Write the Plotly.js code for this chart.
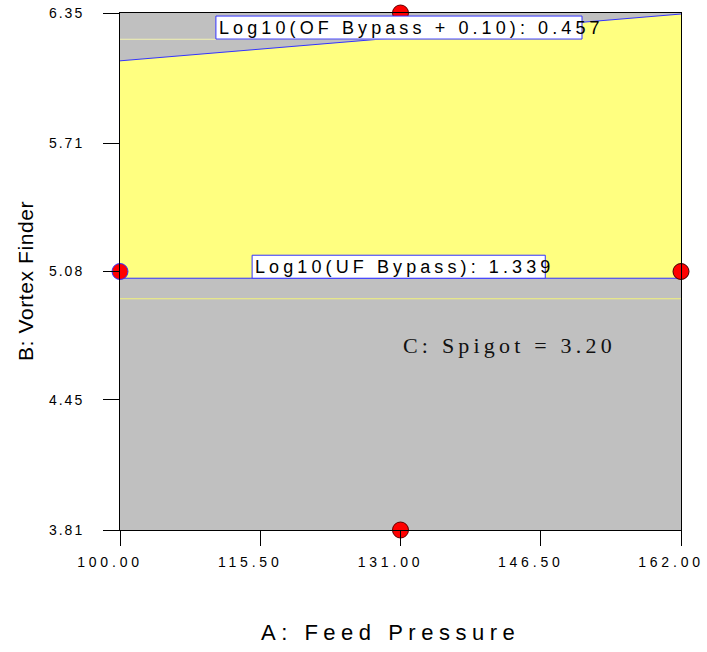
<!DOCTYPE html>
<html>
<head>
<meta charset="utf-8">
<script src="https://cdn.plot.ly/plotly-3.0.1.min.js"></script>
<style>
html,body{margin:0;padding:0;background:#fff;}
.xtick text{letter-spacing:3.8px;}
.ytick text{letter-spacing:2px;}
</style>
</head>
<body>
<div id="chart" style="width:707px;height:652px;"></div>
<script>
// Design-space corners (A: Feed Pressure, B: Vortex Finder)
const aRange = [100, 162];
const bRange = [3.81, 6.35];
const xTickVals = [100, 115.5, 131, 146.5, 162];
const xTickText = ["100.00", "115.50", "131.00", "146.50", "162.00"];
const yTickVals = [3.81, 4.45, 5.08, 5.71, 6.35];
const yTickText = ["3.81", "4.45", "5.08", "5.71", "6.35"];
const xTitle = "A: Feed Pressure";
const yTitle = "B: Vortex Finder";

// Contour boundaries (sweet spot)
const ufBoundaryA = [100, 162];
const ufBoundaryB = [5.047, 5.047];     // Log10(UF Bypass) = 1.339
const ofBoundaryA = [100, 162];
const ofBoundaryB = [6.115, 6.345];     // Log10(OF Bypass + 0.10) = 0.457
const faintLineB = [4.946, 4.946];      // faint contour in grey region
const faintTopA = [100, 131];
const faintTopB = [6.221, 6.221];

// Design points
const ptA = [131, 100, 162, 131];
const ptB = [6.35, 5.08, 5.08, 3.81];

const sweetA = [ufBoundaryA[0], ufBoundaryA[1], ofBoundaryA[1], ofBoundaryA[0]];
const sweetB = [ufBoundaryB[0], ufBoundaryB[1], ofBoundaryB[1], ofBoundaryB[0]];

function spaced(t, px) { return '<span style="letter-spacing:' + px + 'px">' + t + '</span>'; }

const traces = [
  {x: sweetA, y: sweetB, type: 'scatter', mode: 'lines', fill: 'toself',
   fillcolor: '#FFFF80', line: {color: 'rgba(0,0,0,0)', width: 0}, hoverinfo: 'skip'},
  {x: ufBoundaryA, y: ufBoundaryB, type: 'scatter', mode: 'lines', line: {color: '#3333ff', width: 1}},
  {x: ofBoundaryA, y: ofBoundaryB, type: 'scatter', mode: 'lines', line: {color: '#3333ff', width: 1}},
  {x: aRange, y: faintLineB, type: 'scatter', mode: 'lines', line: {color: '#f4f47a', width: 1}},
  {x: faintTopA, y: faintTopB, type: 'scatter', mode: 'lines', line: {color: '#f2f2b0', width: 1}},
  {x: ptA, y: ptB, type: 'scatter', mode: 'markers', cliponaxis: false,
   marker: {color: '#ff0000', size: 16, line: {color: ['#600000', '#3333ff', '#400000', '#600000'], width: 1}}}
];

const layout = {
  width: 707, height: 652,
  margin: {l: 120, r: 26, t: 13, b: 122},
  paper_bgcolor: '#ffffff',
  plot_bgcolor: '#C0C0C0',
  showlegend: false,
  font: {family: 'Liberation Sans, Arial, sans-serif', color: '#000'},
  xaxis: {
    range: aRange, tickvals: xTickVals, ticktext: xTickText,
    showgrid: false, zeroline: false, showline: true, linecolor: '#000', linewidth: 1, mirror: true,
    ticks: 'outside', ticklen: 15, tickcolor: '#000', tickfont: {size: 14, family: 'Liberation Sans, Arial'},
    ticklabeloverflow: 'allow', ticklabelstandoff: 4, ticklabelshift: -10
  },
  yaxis: {
    range: bRange, tickvals: yTickVals, ticktext: yTickText,
    showgrid: false, zeroline: false, showline: true, linecolor: '#000', linewidth: 1, mirror: true,
    ticks: 'outside', ticklen: 16, tickcolor: '#000', tickfont: {size: 14, family: 'Liberation Sans, Arial'},
    ticklabelstandoff: 16
  },
  shapes: [
    {type: 'rect', xref: 'x', yref: 'y', x0: 110.6, x1: 151.06, y0: 6.222, y1: 6.335,
     fillcolor: '#ffffff', line: {color: '#3333ff', width: 1}, layer: 'above'},
    {type: 'rect', xref: 'x', yref: 'y', x0: 114.6, x1: 147.0, y0: 5.047, y1: 5.160,
     fillcolor: '#ffffff', line: {color: '#3333ff', width: 1}, layer: 'above'}
  ],
  annotations: [
    {x: 110.75, y: 6.2785, xref: 'x', yref: 'y', xanchor: 'left', yanchor: 'middle', showarrow: false,
     text: spaced('Log10(OF Bypass + 0.10): 0.457', 4.1), font: {size: 18, family: 'Liberation Sans, Arial'}},
    {x: 114.75, y: 5.1035, xref: 'x', yref: 'y', xanchor: 'left', yanchor: 'middle', showarrow: false,
     text: spaced('Log10(UF Bypass): 1.339', 4.1), font: {size: 18, family: 'Liberation Sans, Arial'}},
    {x: 131.1, y: 4.715, xref: 'x', yref: 'y', xanchor: 'left', yanchor: 'middle', showarrow: false,
     text: spaced('C: Spigot = 3.20', 4.2), font: {size: 22, family: 'Liberation Serif, Times New Roman, serif', color: '#111'}},
    {x: 0.4813, y: -0.1992, xref: 'paper', yref: 'paper', xanchor: 'center', yanchor: 'middle', showarrow: false,
     text: spaced(xTitle, 5.5), font: {size: 22, family: 'Liberation Sans, Arial'}},
    {x: -0.1693, y: 0.4816, xref: 'paper', yref: 'paper', xanchor: 'center', yanchor: 'middle', showarrow: false,
     textangle: -90, text: spaced(yTitle, 0.6), font: {size: 21, family: 'Liberation Sans, Arial'}}
  ]
};

Plotly.newPlot('chart', traces, layout, {displayModeBar: false, staticPlot: true});
</script>
</body>
</html>
